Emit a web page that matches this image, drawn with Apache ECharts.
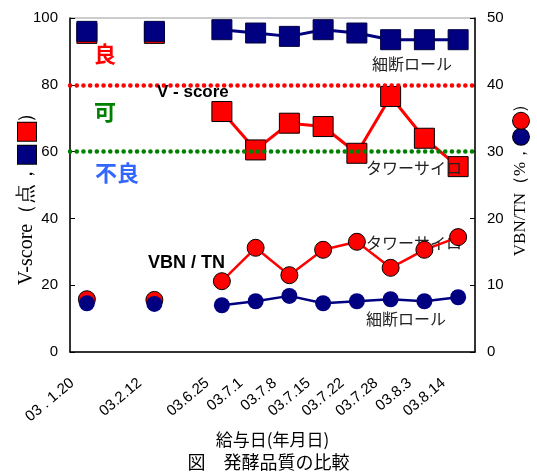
<!DOCTYPE html>
<html><head><meta charset="utf-8">
<script src="https://cdn.jsdelivr.net/npm/echarts@6/dist/echarts.min.js"></script>
<style>html,body{margin:0;padding:0;background:#fff}#c{width:537px;height:472px}</style>
</head><body><div id="c"></div>
<script>
const categories = ['03 . 1.20','','03.2.12','','03.6.25','03.7.1','03.7.8','03.7.15','03.7.22','03.7.28','03.8.3','03.8.14'];
const vscoreRoll  = [96, null, 96, null, 96.5, 95.5, 94.5, 96.5, 95.5, 93.5, 93.5, 93.5];
const vscoreTower = [95.4, null, 95.4, null, 72, 60.5, 68.5, 67.5, 59.5, 76.5, 64, 55.5];
const vbnTower    = [7.9, null, 7.8, null, 10.6, 15.6, 11.5, 15.3, 16.5, 12.6, 15.3, 17.2];
const vbnRoll     = [7.3, null, 7.2, null, 7.0, 7.6, 8.4, 7.3, 7.6, 7.9, 7.6, 8.2];
const leftRange = [0, 100];
const rightRange = [0, 50];
const goodLine = 80;
const fairLine = 60;
const leftAxisName = 'V-score（点，{b|} {r|}）';
const rightAxisName = 'VBN/TN（%，{b|}{r|}）';

const RED = '#ff0000', NAVY = '#000080', GREEN = '#008000';
const JP = '"Noto Sans CJK JP", sans-serif';
const SANS = '"Liberation Sans", Arial, sans-serif';
const SERIF = '"Liberation Serif", "Times New Roman", serif';

const chart = echarts.init(document.getElementById('c'));
chart.setOption({
  animation: false,
  backgroundColor: '#fff',
  title: {
    text: '図　発酵品質の比較', left: 'center', top: 453, padding: 0,
    textStyle: {fontFamily: JP, fontSize: 18, fontWeight: 'normal', color: '#000'}
  },
  grid: {left: 70, right: 62, top: 18, bottom: 120, show: true, borderColor: '#999', borderWidth: 1,
    containLabel: false, outerBoundsMode: 'none'},
  xAxis: {
    type: 'category', data: categories,
    name: '給与日(年月日)', nameLocation: 'middle', nameGap: 77,
    nameTextStyle: {fontFamily: JP, fontSize: 17, color: '#000'},
    axisLine: {lineStyle: {color: '#000', width: 1.5}},
    axisTick: {inside: true, length: 5, lineStyle: {color: '#000'}},
    axisLabel: {interval: 0, rotate: 40, fontFamily: SANS, fontSize: 15, color: '#000', margin: 17, padding: [0, 19, 0, 0]},
    splitLine: {show: false}
  },
  yAxis: [{
    type: 'value', min: leftRange[0], max: leftRange[1], interval: 20,
    axisLine: {show: true, lineStyle: {color: '#000', width: 1.5}},
    axisTick: {show: true, inside: true, length: 5, lineStyle: {color: '#000'}},
    axisLabel: {fontFamily: SANS, fontSize: 15, color: '#000', margin: 12},
    splitLine: {show: false}
  }, {
    type: 'value', min: rightRange[0], max: rightRange[1], interval: 10,
    axisLine: {show: true, lineStyle: {color: '#000', width: 1.5}},
    axisTick: {show: true, inside: true, length: 5, lineStyle: {color: '#000'}},
    axisLabel: {fontFamily: SANS, fontSize: 15, color: '#000', margin: 12},
    splitLine: {show: false}
  }],
  series: [{
    name: 'V-score タワーサイロ', type: 'line', yAxisIndex: 0, data: vscoreTower,
    symbol: 'rect', symbolSize: 20, connectNulls: false,
    lineStyle: {color: RED, width: 3},
    itemStyle: {color: RED, borderColor: '#000', borderWidth: 1, opacity: 1}, z: 3
  }, {
    name: 'V-score 細断ロール', type: 'line', yAxisIndex: 0, data: vscoreRoll,
    symbol: 'rect', symbolSize: 20, connectNulls: false,
    lineStyle: {color: NAVY, width: 3},
    itemStyle: {color: NAVY, borderColor: '#000040', borderWidth: 1, opacity: 1}, z: 4
  }, {
    name: 'VBN/TN タワーサイロ', type: 'line', yAxisIndex: 1, data: vbnTower,
    symbol: 'circle', symbolSize: 17, connectNulls: false,
    lineStyle: {color: RED, width: 2.5},
    itemStyle: {color: RED, borderColor: '#000', borderWidth: 1, opacity: 1}, z: 3
  }, {
    name: 'VBN/TN 細断ロール', type: 'line', yAxisIndex: 1, data: vbnRoll,
    symbol: 'circle', symbolSize: 16, connectNulls: false,
    lineStyle: {color: NAVY, width: 2.5},
    itemStyle: {color: NAVY, borderColor: NAVY, borderWidth: 0, opacity: 1}, z: 4,
    markLine: {
      silent: true, symbol: 'none', z: 10,
      label: {show: false},
      data: [
        {yAxis: goodLine / 2, lineStyle: {color: RED, width: 4.5, type: [0.1, 6.6], cap: 'round'}},
        {yAxis: fairLine / 2, lineStyle: {color: GREEN, width: 4.5, type: [0.1, 6.6], cap: 'round'}}
      ]
    }
  }],
  graphic: [
    {type: 'text', x: 27, y: 194, rotation: Math.PI / 2, z: 20, style: {
      text: leftAxisName, align: 'center', verticalAlign: 'middle', fill: '#000', font: '20px ' + SERIF,
      rich: {
        b: {width: 18, height: 18, backgroundColor: NAVY, borderColor: '#000', borderWidth: 1},
        r: {width: 18, height: 18, backgroundColor: RED, borderColor: '#000', borderWidth: 1}
      }}},
    {type: 'text', x: 521, y: 176, rotation: Math.PI / 2, z: 20, style: {
      text: rightAxisName, align: 'center', verticalAlign: 'middle', fill: '#000', font: '17px ' + SERIF,
      rich: {
        b: {width: 16, height: 16, backgroundColor: NAVY, borderRadius: 8, borderColor: '#000', borderWidth: 1},
        r: {width: 16, height: 16, backgroundColor: RED, borderRadius: 8, borderColor: '#000', borderWidth: 1}
      }}},
    {type: 'text', left: 94, top: 43, z: 20, style: {text: '良', fill: RED, font: 'bold 22px ' + JP}},
    {type: 'text', left: 94, top: 101, z: 20, style: {text: '可', fill: GREEN, font: 'bold 22px ' + JP}},
    {type: 'text', left: 95, top: 162, z: 20, style: {text: '不良', fill: '#3366ff', font: 'bold 22px ' + JP}},
    {type: 'text', left: 157, top: 84, z: 20, style: {text: 'V - score', fill: '#000', font: 'bold 17px ' + SANS}},
    {type: 'text', left: 148, top: 254, z: 20, style: {text: 'VBN / TN', fill: '#000', font: 'bold 18px ' + SANS}},
    {type: 'text', left: 372, top: 56, z: 20, style: {text: '細断ロール', fill: '#222', font: '16px ' + JP}},
    {type: 'text', left: 366, top: 160, z: 20, style: {text: 'タワーサイロ', fill: '#222', font: '16px ' + JP}},
    {type: 'text', left: 366, top: 235, z: 1, style: {text: 'タワーサイロ', fill: '#222', font: '16px ' + JP}},
    {type: 'text', left: 366, top: 311, z: 20, style: {text: '細断ロール', fill: '#222', font: '16px ' + JP}}
  ]
});
</script></body></html>
